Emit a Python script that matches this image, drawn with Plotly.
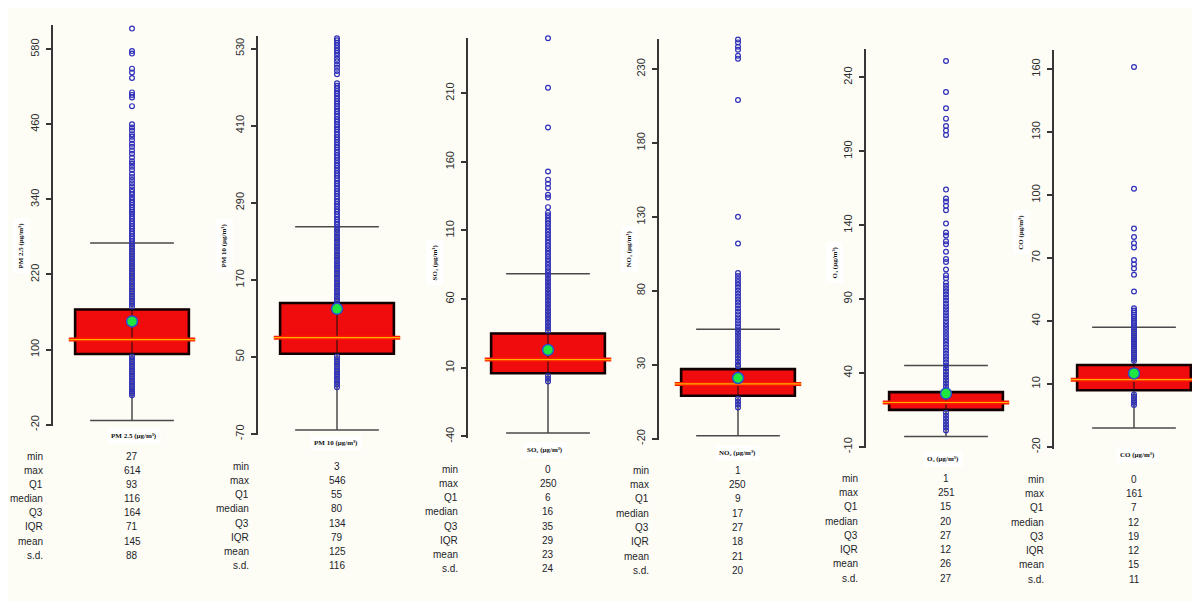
import plotly.graph_objects as go

W, H = 1200, 601

# ---------------- data ----------------
categories = ["PM 2.5", "PM 10", "SO2", "NO2", "O3", "CO"]
axis_titles = [
    "PM 2.5 (μg/m³)",
    "PM 10 (μg/m³)",
    "SO₂ (μg/m³)",
    "NO₂ (μg/m³)",
    "O₃ (μg/m³)",
    "CO (μg/m³)",
]

stat_names = ["min", "max", "Q1", "median", "Q3", "IQR", "mean", "s.d."]
stat_min = [27, 3, 0, 1, 1, 0]
stat_max = [614, 546, 250, 250, 251, 161]
stat_q1 = [93, 55, 6, 9, 15, 7]
stat_median = [116, 80, 16, 17, 20, 12]
stat_q3 = [164, 134, 35, 27, 27, 19]
stat_iqr = [71, 79, 29, 18, 12, 12]
stat_mean = [145, 125, 23, 21, 26, 15]
stat_sd = [88, 116, 24, 20, 27, 11]

ticks_pm25 = [-20, 100, 220, 340, 460, 580]
ticks_pm10 = [-70, 50, 170, 290, 410, 530]
ticks_so2 = [-40, 10, 60, 110, 160, 210]
ticks_no2 = [-20, 30, 80, 130, 180, 230]
ticks_o3 = [-10, 40, 90, 140, 190, 240]
ticks_co = [-20, 10, 40, 70, 100, 130, 160]

pts_pm25 = [613, 577, 573, 549, 543, 534, 511, 507, 503, 489,
            460, 455, 450, 444, 440, 435, 429, 424, 418, 413, 407, 401, 397, 392,
            387, 381, 376, 371, 366, 361, 356, 352, 348, 343, 339, 335, 331, 327,
            323, 320, 317, 313, 309, 305, 301, 297, 293, 289, 285, 281, 277, 273,
            269, 265, 261, 257, 253, 249, 245, 241, 237, 233, 229, 225, 221, 217,
            213, 209, 205, 201, 197, 193, 189, 185, 181, 177, 173, 169,
            89, 85, 81, 77, 73, 69, 65, 61, 57, 53, 49, 45, 41, 37, 33, 30, 27]
pts_pm10 = [546, 543, 539, 535, 531, 527, 523, 519, 514, 510, 505, 500, 495, 490,
            476, 472, 468, 464, 460, 456, 452, 448, 444, 440, 436, 432, 428, 424,
            420, 416, 412, 408, 404, 400, 396, 392, 388, 384, 380, 376, 372, 368,
            364, 360, 356, 352, 348, 344, 340, 336, 332, 328, 324, 320, 316, 312,
            308, 304, 300, 296, 292, 288, 284, 280, 276, 272, 268, 264, 260, 256,
            252, 248, 244, 240, 236, 232, 228, 224, 220, 216, 212, 208, 204, 200,
            196, 192, 188, 184, 180, 176, 172, 168, 164, 160, 156, 152, 148, 144,
            140, 137,
            51, 47, 43, 39, 35, 31, 27, 23, 19, 15, 11, 7, 3]
pts_so2 = [250, 214, 185, 153, 147, 144, 141, 136, 134, 127,
           123, 121, 119, 117, 115, 113, 111, 109, 107, 105, 103, 101, 99, 97,
           95, 93, 91, 89, 87, 85, 83, 81, 79, 77, 75, 73, 71, 69, 67, 65, 63,
           61, 59, 57, 55, 53, 51, 49, 47, 45, 43, 41, 39, 37,
           4, 2, 0]
pts_no2 = [250, 248, 245, 243, 239, 237, 209, 130, 112,
           92, 90, 88, 86, 84, 82, 80, 78, 76, 74, 72, 70, 68, 66, 64, 62, 60,
           58, 56, 54, 52, 50, 48, 46, 44, 42, 40, 38, 36, 34, 32, 30, 29,
           7, 5, 3, 1]
pts_o3 = [251, 230, 219, 212, 207, 204, 201, 164, 158, 156, 153, 150, 141, 135,
          133, 129, 127, 122, 117, 115, 110, 106, 104, 101, 99, 97, 95, 93, 91,
          89, 87, 85, 83, 81, 79, 77, 75, 73, 71, 69, 67, 65, 63, 61, 59, 57,
          55, 53, 51, 49, 47, 45, 43, 41, 39, 37, 35, 33, 31, 29,
          13, 11, 9, 7, 5, 3, 1]
pts_co = [161, 103, 84, 80, 77, 75, 69, 67, 65, 62, 54,
          46, 45, 44, 43, 42, 41, 40, 39, 38, 37, 36, 35, 34, 33, 32, 31, 30,
          29, 28, 27, 26, 25, 24, 23, 22, 21,
          5, 4, 3, 2, 1, 0]

all_ticks = [ticks_pm25, ticks_pm10, ticks_so2, ticks_no2, ticks_o3, ticks_co]
all_pts = [pts_pm25, pts_pm10, pts_so2, pts_no2, pts_o3, pts_co]
all_stats = [stat_min, stat_max, stat_q1, stat_median, stat_q3, stat_iqr, stat_mean, stat_sd]

# ---------------- layout geometry (pixels) ----------------
panels = [
    dict(ax=45, c=124, top=17, bot=422, yr=[-21.8, 619], tpos=(13, 240), lpos=(126, 432), ty0=452.7, tstep=14.3, nx=37),
    dict(ax=250, c=329, top=28, bot=431, yr=[-71, 550], tpos=(216, 240), lpos=(328, 439), ty0=463, tstep=14.3, nx=243),
    dict(ax=460, c=540, top=30, bot=434, yr=[-40.9, 250.4], tpos=(427, 257), lpos=(537, 446), ty0=465.7, tstep=14.4, nx=452),
    dict(ax=651, c=730, top=31, bot=436, yr=[-20.7, 250.5], tpos=(621, 244), lpos=(730, 449), ty0=466.7, tstep=14.5, nx=643),
    dict(ax=858, c=938, top=41, bot=444, yr=[-10.5, 259.4], tpos=(827, 257), lpos=(935, 456), ty0=475, tstep=14.4, nx=852),
    dict(ax=1046, c=1126, top=42, bot=445, yr=[-20.8, 169.3], tpos=(1013, 227), lpos=(1129, 452), ty0=476, tstep=14.4, nx=1038),
]

U = 158.0          # pixels per x unit
BOX_W = 0.72
MED_W = 0.80
CAP_W = 0.53

AXIS_COL = "#363636"
RED = "#f00c0c"

fig = go.Figure()
layout_axes = {}
annotations = []

for i, P in enumerate(panels):
    sfx = "" if i == 0 else str(i + 1)
    xa, ya = "x" + sfx, "y" + sfx
    left = P["ax"]
    c = P["c"]
    right = min(left + 2 * (c - left), W)
    xr = [-(c - left) / U, (right - c) / U]

    q1 = stat_q1[i]
    q3 = stat_q3[i]
    med = stat_median[i]
    iqr = stat_iqr[i]
    lf = q1 - 1.5 * iqr
    uf = q3 + 1.5 * iqr

    layout_axes["xaxis" + sfx] = dict(domain=[left / W, right / W], range=xr, visible=False,
                                      anchor=ya, fixedrange=True)
    layout_axes["yaxis" + sfx] = dict(
        domain=[1 - P["bot"] / H, 1 - P["top"] / H], range=P["yr"], anchor=xa,
        tickmode="array", tickvals=all_ticks[i], ticktext=[str(t) for t in all_ticks[i]],
        tickangle=-90, ticks="outside", ticklen=5, tickwidth=1.5, tickcolor=AXIS_COL,
        showline=True, linecolor=AXIS_COL, linewidth=2, showgrid=False, zeroline=False,
        tickfont=dict(family="Liberation Sans, Arial", size=11, color="#2e2e2e"),
        ticklabelstandoff=3, fixedrange=True,
    )

    # whiskers (fences at 1.5 IQR)
    fig.add_trace(go.Box(x=[0], q1=[q1], median=[med], q3=[q3], lowerfence=[lf], upperfence=[uf],
                         width=BOX_W, whiskerwidth=CAP_W / BOX_W, fillcolor=RED,
                         line=dict(color="#4a4a4a", width=1.5), boxpoints=False,
                         xaxis=xa, yaxis=ya, showlegend=False, hoverinfo="skip"))
    # box body with heavy black border
    fig.add_trace(go.Box(x=[0], q1=[q1], median=[med], q3=[q3], lowerfence=[q1], upperfence=[q3],
                         width=BOX_W, whiskerwidth=0, fillcolor=RED,
                         line=dict(color="#120000", width=2.6), boxpoints=False,
                         xaxis=xa, yaxis=ya, showlegend=False, hoverinfo="skip"))
    # observations
    pts = all_pts[i]
    fig.add_trace(go.Scatter(x=[0] * len(pts), y=pts, mode="markers",
                             marker=dict(symbol="circle-open", size=4.8, color="#3030b8",
                                         line=dict(width=1.2)),
                             cliponaxis=False, xaxis=xa, yaxis=ya, showlegend=False, hoverinfo="skip"))
    # thin centre line through the box
    fig.add_trace(go.Scatter(x=[0, 0], y=[q1, q3], mode="lines",
                             line=dict(color="#101010", width=1),
                             xaxis=xa, yaxis=ya, showlegend=False, hoverinfo="skip"))
    # median line
    fig.add_trace(go.Scatter(x=[-MED_W / 2, MED_W / 2], y=[med, med], mode="lines",
                             line=dict(color="#ff1a00", width=4),
                             xaxis=xa, yaxis=ya, showlegend=False, hoverinfo="skip"))
    fig.add_trace(go.Scatter(x=[-MED_W / 2, MED_W / 2], y=[med, med], mode="lines",
                             line=dict(color="#ffb000", width=1.2),
                             xaxis=xa, yaxis=ya, showlegend=False, hoverinfo="skip"))
    # mean
    fig.add_trace(go.Scatter(x=[0], y=[stat_mean[i]], mode="markers",
                             marker=dict(size=11, color="#20e640", line=dict(color="#2a4ccf", width=1.5)),
                             cliponaxis=False, xaxis=xa, yaxis=ya, showlegend=False, hoverinfo="skip"))

    # y-axis title
    tx, ty = P["tpos"]
    annotations.append(dict(x=tx / W, y=1 - ty / H, xref="paper", yref="paper", text="<b>" + axis_titles[i] + "</b>",
                            textangle=-90, showarrow=False, xanchor="center", yanchor="middle",
                            font=dict(family="Liberation Serif, Times New Roman", size=7, color="#111"),
                            bgcolor="#ffffff", borderpad=4))
    # category label under the plot
    lx, ly = P["lpos"]
    annotations.append(dict(x=lx / W, y=1 - ly / H, xref="paper", yref="paper", text="<b>" + axis_titles[i] + "</b>",
                            showarrow=False, xanchor="center", yanchor="middle",
                            font=dict(family="Liberation Serif, Times New Roman", size=7, color="#111"),
                            bgcolor="#ffffff", borderpad=3))
    # summary table
    for r, name in enumerate(stat_names):
        yy = 1 - (P["ty0"] + r * P["tstep"]) / H
        annotations.append(dict(x=P["nx"] / W, y=yy, xref="paper", yref="paper", text=name,
                                showarrow=False, xanchor="right", yanchor="middle",
                                font=dict(family="Liberation Sans, Arial", size=10, color="#1e1e2a")))
        annotations.append(dict(x=c / W, y=yy, xref="paper", yref="paper", text=str(all_stats[r][i]),
                                showarrow=False, xanchor="center", yanchor="middle",
                                font=dict(family="Liberation Sans, Arial", size=10, color="#1e1e2a")))

fig.update_layout(
    width=W, height=H, autosize=False,
    margin=dict(l=0, r=0, t=0, b=0),
    paper_bgcolor="#fdfdf6", plot_bgcolor="rgba(0,0,0,0)",
    showlegend=False, boxmode="overlay",
    annotations=annotations,
    **layout_axes,
)

fig.write_html("out.html")
